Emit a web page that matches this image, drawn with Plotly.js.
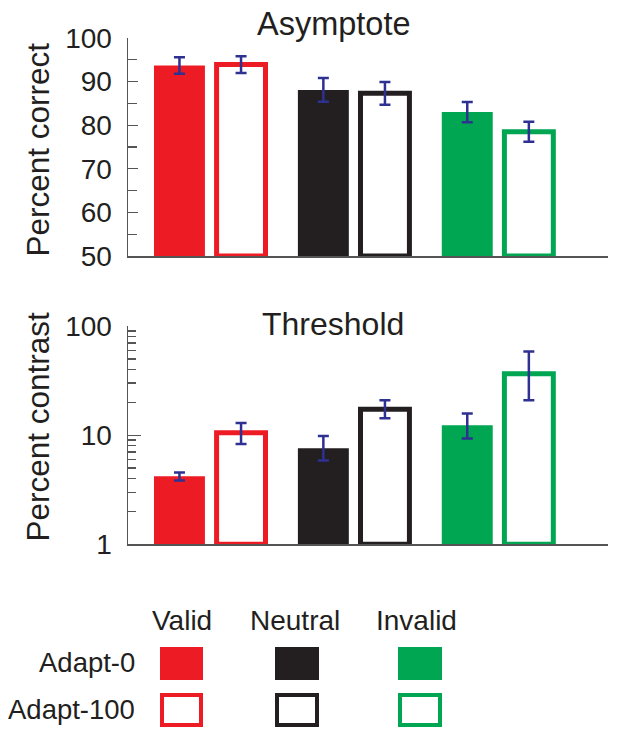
<!DOCTYPE html>
<html><head><meta charset="utf-8">
<script src="https://cdn.plot.ly/plotly-3.0.1.min.js"></script>
<style>html,body{margin:0;padding:0;background:#fff}</style>
</head><body><div id="chart" style="width:621px;height:740px"></div>
<script>
// ---- data ----
const conditions = ["Valid", "Neutral", "Invalid"];
const seriesNames = ["Adapt-0", "Adapt-100"];
const asymAdapt0 = [93.7, 88.1, 83.0];
const asymAdapt0Err = [1.9, 2.7, 2.3];
const asymAdapt100 = [93.9, 87.3, 78.5];
const asymAdapt100Err = [1.9, 2.6, 2.3];
const thrAdapt0 = [4.2, 7.6, 12.3];
const thrAdapt0ErrPlus = [0.35, 2.2, 3.5];
const thrAdapt0ErrMinus = [0.35, 1.75, 3.0];
const thrAdapt100 = [10.5, 17.3, 36.5];
const thrAdapt100ErrPlus = [2.4, 3.6, 22];
const thrAdapt100ErrMinus = [2.2, 3.0, 15.6];
const asymTicks = [50, 60, 70, 80, 90, 100];
const thrTicks = [1, 10, 100];

// ---- style ----
const colors = ["#ed1c24", "#231f20", "#00a651"];
const errColor = "#2e3192";
const axisColor = "#555555";
const textColor = "#231f20";
const FONT = "Liberation Sans, Arial, sans-serif";
const W = 621, H = 740;
const px = x => x / W, py = y => 1 - y / H;

const asymBase = 50, thrBase = 1;
const fillOffset = -0.391, fillWidth = 0.354;
const outOffset = 0.044, outWidth = 0.34;

function errStyle(plus, minus) {
  const e = {type: "data", array: plus, color: errColor, thickness: 2.5, width: 5.5, visible: true};
  if (minus) { e.symmetric = false; e.arrayminus = minus; }
  return e;
}

const traces = [
  {type: "bar", name: seriesNames[0], x: conditions, y: asymAdapt0.map(v => v - asymBase), base: asymBase,
   offset: fillOffset, width: fillWidth, marker: {color: colors, line: {width: 0}},
   error_y: errStyle(asymAdapt0Err), xaxis: "x", yaxis: "y", showlegend: false},
  {type: "bar", name: seriesNames[1], x: conditions, y: asymAdapt100.map(v => v - asymBase), base: asymBase,
   offset: outOffset, width: outWidth, marker: {color: "white", line: {color: colors, width: 5}},
   error_y: errStyle(asymAdapt100Err), xaxis: "x", yaxis: "y", showlegend: false},
  {type: "bar", name: seriesNames[0], x: conditions, y: thrAdapt0.map(v => v - thrBase), base: thrBase,
   offset: fillOffset, width: fillWidth, marker: {color: colors, line: {width: 0}},
   error_y: errStyle(thrAdapt0ErrPlus, thrAdapt0ErrMinus), xaxis: "x2", yaxis: "y2", showlegend: false},
  {type: "bar", name: seriesNames[1], x: conditions, y: thrAdapt100.map(v => v - thrBase), base: thrBase,
   offset: outOffset, width: outWidth, marker: {color: "white", line: {color: colors, width: 5}},
   error_y: errStyle(thrAdapt100ErrPlus, thrAdapt100ErrMinus), xaxis: "x2", yaxis: "y2", showlegend: false}
];

const xRange = [-0.5716, 2.764];
const xDomain = [px(128), px(608)];
const xCommon = {domain: xDomain, range: xRange, type: "category", showline: true, linecolor: axisColor, linewidth: 1.5,
  ticks: "", showticklabels: false, showgrid: false, zeroline: false, fixedrange: true};
const yCommon = {showline: true, linecolor: axisColor, linewidth: 1.5, ticks: "inside", tickcolor: axisColor,
  tickwidth: 1.3, showgrid: false, zeroline: false, tickfont: {family: FONT, size: 28, color: textColor},
  ticklabelstandoff: 9, fixedrange: true};

const layout = {
  width: W, height: H, margin: {l: 0, r: 0, t: 0, b: 0},
  paper_bgcolor: "white", plot_bgcolor: "white", barmode: "overlay", showlegend: false,
  font: {family: FONT, color: textColor},
  xaxis: Object.assign({}, xCommon, {anchor: "y"}),
  xaxis2: Object.assign({}, xCommon, {anchor: "y2"}),
  yaxis: Object.assign({}, yCommon, {anchor: "x", domain: [py(256), py(38)], range: [50, 100],
    tickvals: asymTicks, ticklen: 10, minor: {dtick: 5, ticks: "inside", ticklen: 9, tickcolor: axisColor, tickwidth: 1.3, showgrid: false}}),
  yaxis2: Object.assign({}, yCommon, {anchor: "x2", type: "log", domain: [py(544.3), py(326)], range: [0, 2],
    tickvals: thrTicks, ticktext: thrTicks.map(String), ticklen: 13,
    minor: {dtick: "D1", ticks: "inside", ticklen: 8, tickcolor: axisColor, tickwidth: 1.3, showgrid: false}}),
  annotations: [],
  shapes: []
};

// titles
layout.annotations.push(
  {text: "Asymptote", xref: "paper", yref: "paper", x: px(334), y: py(24), xanchor: "center", yanchor: "middle",
   showarrow: false, font: {family: FONT, size: 32.5, color: textColor}},
  {text: "Threshold", xref: "paper", yref: "paper", x: px(333), y: py(324), xanchor: "center", yanchor: "middle",
   showarrow: false, font: {family: FONT, size: 32, color: textColor}},
  {text: "Percent correct", xref: "paper", yref: "paper", x: px(37.5), y: py(150), xanchor: "center", yanchor: "middle",
   textangle: -90, showarrow: false, font: {family: FONT, size: 31.5, color: textColor}},
  {text: "Percent contrast", xref: "paper", yref: "paper", x: px(37.5), y: py(427), xanchor: "center", yanchor: "middle",
   textangle: -90, showarrow: false, font: {family: FONT, size: 31.5, color: textColor}}
);

// custom legend grid
const legColX = [[160, 203], [275, 319], [398, 442]];
const legHeadX = [182, 295, 416];
const legRowY = [[647, 680], [693, 727]];
conditions.forEach((c, i) => {
  layout.annotations.push({text: c, xref: "paper", yref: "paper", x: px(legHeadX[i]), y: py(620), xanchor: "center",
    yanchor: "middle", showarrow: false, font: {family: FONT, size: 28, color: textColor}});
  const [x0, x1] = legColX[i];
  layout.shapes.push({type: "rect", xref: "paper", yref: "paper", x0: px(x0), x1: px(x1),
    y0: py(legRowY[0][1]), y1: py(legRowY[0][0]), fillcolor: colors[i], line: {width: 0}});
  layout.shapes.push({type: "rect", xref: "paper", yref: "paper", x0: px(x0 + 2), x1: px(x1 - 2),
    y0: py(legRowY[1][1] - 2), y1: py(legRowY[1][0] + 2), fillcolor: "white", line: {color: colors[i], width: 4}});
});
seriesNames.forEach((s, j) => {
  layout.annotations.push({text: s, xref: "paper", yref: "paper", x: px(137), y: py((legRowY[j][0] + legRowY[j][1]) / 2 - 1),
    xanchor: "right", yanchor: "middle", showarrow: false, font: {family: FONT, size: 27.5, color: textColor}});
});

Plotly.newPlot("chart", traces, layout, {staticPlot: true, displayModeBar: false});
</script></body></html>
